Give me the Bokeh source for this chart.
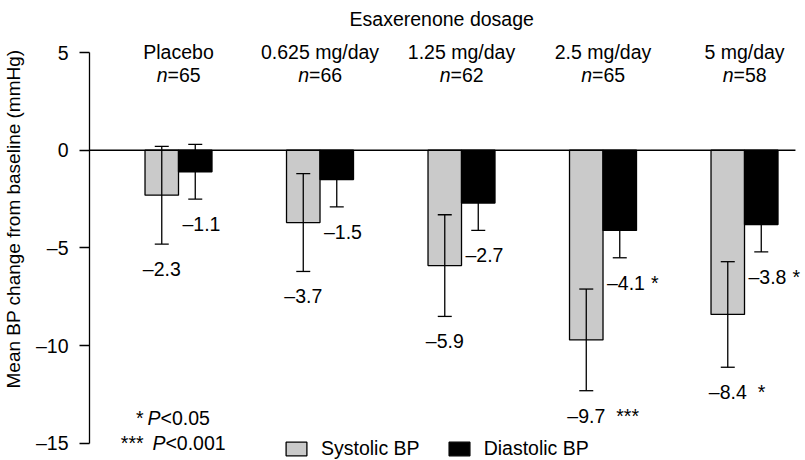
import numpy as np
from bokeh.plotting import figure
from bokeh.models import (ColumnDataSource, Whisker, TeeHead, Legend, LegendItem,
                          Label, FixedTicker, LinearAxis)
from bokeh.embed import file_html
from bokeh.resources import INLINE
from bokeh.core.properties import value

# ---------------- data ----------------
groups = ["Placebo", "0.625 mg/day", "1.25 mg/day", "2.5 mg/day", "5 mg/day"]
n_per_group = [65, 66, 62, 65, 58]
systolic = [-2.3, -3.7, -5.9, -9.7, -8.4]
systolic_se = [2.5, 2.5, 2.6, 2.6, 2.7]
diastolic = [-1.1, -1.5, -2.7, -4.1, -3.8]
diastolic_se = [1.4, 1.4, 1.4, 1.4, 1.4]
systolic_sig = ["", "", "", "***", "*"]
diastolic_sig = ["", "", "", "*", "*"]
y_ticks = [5, 0, -5, -10, -15]
y_tick_labels = ["5", "0", "\u20135", "\u201310", "\u201315"]

FONT = "Liberation Sans"
FS = "19.5px"
GRAY = "#cacaca"

x = np.arange(len(groups))
bw = 0.2367
off = bw / 2

def dash(v):
    return f"\u2013{abs(v):.1f}" if v < 0 else f"{v:.1f}"

src = ColumnDataSource(dict(
    x=x, xs=x - off, xd=x + off,
    sys=systolic, dia=diastolic,
    sys_hi=[v + e for v, e in zip(systolic, systolic_se)],
    sys_lo=[v - e for v, e in zip(systolic, systolic_se)],
    dia_hi=[v + e for v, e in zip(diastolic, diastolic_se)],
    dia_lo=[v - e for v, e in zip(diastolic, diastolic_se)],
    sys_lab=[dash(v) for v in systolic],
    dia_lab=[dash(v) for v in diastolic],
    sys_sig=systolic_sig, dia_sig=diastolic_sig,
    grp=groups, n_eq=[f"={n}" for n in n_per_group], n_it=["n"] * len(groups),
    head_y=[5.015] * len(groups), n_y=[3.836] * len(groups),
))

x_start, x_end = -1.258, 4.431
axis_x = -0.629          # where the value axis stands (left of the first group)
p = figure(width=805, height=460, x_range=(x_start, x_end), y_range=(-15.87, 7.66),
           x_axis_location=None, y_axis_location=None, output_backend="svg",
           toolbar_location=None, min_border_left=0, min_border_right=0,
           min_border_top=0, min_border_bottom=0)
p.outline_line_color = None
p.xgrid.grid_line_color = None
p.ygrid.grid_line_color = None

# value axis: Bokeh axis (line + ticks) at a fixed location inside the frame
ya = LinearAxis(fixed_location=axis_x, ticker=FixedTicker(ticks=y_ticks), bounds=(-15, 5),
                major_label_overrides={t: "" for t in y_ticks}, major_label_standoff=0,
                major_tick_out=0, major_tick_in=-10, minor_tick_out=0, minor_tick_in=0,
                axis_line_color="black", axis_line_width=1.3,
                major_tick_line_color="black", major_tick_line_width=1.3,
                major_label_text_alpha=0)
p.add_layout(ya, "left")

# tick labels, right-aligned next to the ticks
tsrc = ColumnDataSource(dict(x=[axis_x] * len(y_ticks), y=y_ticks, t=y_tick_labels))
p.text(x="x", y="y", text="t", x_offset=-21, text_align="right", text_baseline="middle",
       text_font=value(FONT), text_font_size=FS, text_color="black", source=tsrc)

# bars
rs = p.vbar(x="xs", top="sys", bottom=0, width=bw, fill_color=GRAY,
            line_color="black", line_width=1.3, source=src)
rd = p.vbar(x="xd", top="dia", bottom=0, width=bw, fill_color="black",
            line_color="black", line_width=1.3, source=src)

# error bars
for base, up, lo in (("xs", "sys_hi", "sys_lo"), ("xd", "dia_hi", "dia_lo")):
    w = Whisker(base=base, upper=up, lower=lo, source=src, line_color="black",
                line_width=1.3, level="annotation",
                upper_head=TeeHead(size=14, line_color="black", line_width=1.3),
                lower_head=TeeHead(size=14, line_color="black", line_width=1.3))
    p.add_layout(w)

# zero line (from the axis to just right of the last group)
p.segment(x0=[axis_x], y0=[0], x1=[x[-1] + 0.36], y1=[0], line_color="black",
          line_width=1.3)

tkw = dict(text_font=value(FONT), text_font_size=FS, text_color="black",
           text_baseline="alphabetic", source=src)

# value labels
p.text(x="xs", y="sys_lo", text="sys_lab", y_offset=25, text_align="center", **tkw)
p.text(x="xs", y="sys_lo", text="sys_sig", y_offset=25, x_offset=30, text_align="left", **tkw)
p.text(x="x", y="dia_lo", text="dia_lab", y_offset=25, x_offset=4, text_align="left", **tkw)
p.text(x="x", y="dia_lo", text="dia_sig", y_offset=25, x_offset=48, text_align="left", **tkw)

# group headers
p.text(x="x", y="head_y", text="grp", text_align="center", **tkw)
p.text(x="x", y="n_y", text="n_it", x_offset=-11, text_align="right",
       text_font_style="italic", **tkw)
p.text(x="x", y="n_y", text="n_eq", x_offset=-11, text_align="left", **tkw)

lkw = dict(text_font=FONT, text_font_size=FS, text_color="black", text_baseline="alphabetic")
p.add_layout(Label(x=1.86, y=6.739, text="Esaxerenone dosage",
                   text_align="center", **lkw))

# significance key
p.add_layout(Label(x=-0.247, y=-13.72, text="*", text_align="right", **lkw))
p.add_layout(Label(x=-0.219, y=-13.72, text="P", text_align="left",
                   text_font_style="italic", **lkw))
p.add_layout(Label(x=-0.219, y=-13.72, x_offset=13, text="<0.05", text_align="left", **lkw))
p.add_layout(Label(x=-0.247, y=-15.0, text="***", text_align="right", **lkw))
p.add_layout(Label(x=-0.184, y=-15.0, text="P", text_align="left",
                   text_font_style="italic", **lkw))
p.add_layout(Label(x=-0.184, y=-15.0, x_offset=13, text="<0.001", text_align="left", **lkw))

# y axis title
p.add_layout(Label(x=-1.166, y=-3.517, text="Mean BP change from baseline (mmHg)",
                   angle=np.pi / 2, text_align="center", text_baseline="middle",
                   text_font=FONT, text_font_size="19px", text_color="black"))

legend = Legend(items=[LegendItem(label="Systolic BP", renderers=[rs]),
                       LegendItem(label="Diastolic BP", renderers=[rd])],
                orientation="horizontal", location=(283, 0), glyph_width=26,
                glyph_height=17, label_standoff=12, spacing=26, padding=0, margin=0,
                border_line_color=None, background_fill_alpha=0,
                label_text_font=FONT, label_text_font_size=FS, label_text_color="black")
p.add_layout(legend)

open("out.html", "w").write(file_html(p, INLINE))
